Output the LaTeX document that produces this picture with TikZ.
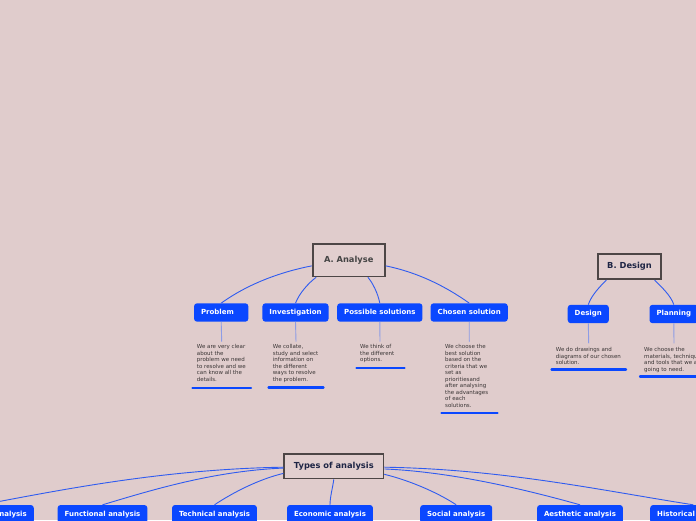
\documentclass[tikz,border=0pt]{standalone}
\usepackage{fontspec}
\setmainfont{DejaVu Sans}
\definecolor{bg}{HTML}{E0CCCC}
\definecolor{titlefill}{HTML}{E2CFCF}
\definecolor{boxblue}{HTML}{0A47FF}
\definecolor{linkblue}{HTML}{2F5BF0}
\definecolor{stemblue}{HTML}{8D9CE6}
\definecolor{frame}{HTML}{4D4646}
\definecolor{navy}{HTML}{1E2545}
\definecolor{darkgray}{HTML}{444444}
\definecolor{notegray}{HTML}{3A3535}
\begin{document}
\begin{tikzpicture}[x=1pt,y=-1pt,
  titlebox/.style={draw=frame, line width=1.8pt, fill=titlefill, inner sep=0pt,
    font=\fontsize{8.3}{9}\selectfont\bfseries},
  topic/.style={fill=boxblue, rounded corners=3pt, text=white,
    font=\fontsize{7}{8}\selectfont\bfseries, inner xsep=7pt, inner ysep=0pt,
    minimum height=18.4pt, text height=5.2pt, text depth=1.4pt, align=left},
  note/.style={anchor=north west, inner sep=0pt, align=left, text=notegray,
    font=\fontsize{5.5}{6.5}\selectfont},
  link/.style={draw=linkblue, line width=0.9pt},
  stem/.style={draw=stemblue, line width=0.9pt},
  uline/.style={draw=boxblue, line width=2.4pt, line cap=round}]
\useasboundingbox (0,0) rectangle (696,520);
\fill[bg] (0,0) rectangle (696,520);
\clip (0,0) rectangle (696,520);

% ---------- A. Analyse ----------
\node[titlebox, text=darkgray, minimum width=72.2pt, minimum height=32.8pt] (A) at (348.7,260) {A. Analyse};
\node[topic, text width=40.3pt] (P) at (221.2,312.5) {Problem};
\node[topic] (I) at (295.5,312.5) {Investigation};
\node[topic] (PS) at (379.8,312.5) {Possible solutions};
\node[topic] (CS) at (469.2,312.5) {Chosen solution};

\draw[link] (A.189) .. controls +(-34,6.7) and +(25.5,-18.2) .. (P.north);
\draw[link] (A.208) .. controls +(-8,6) and +(4,-10) .. (I.north);
\draw[link] (A.318.6) .. controls +(5,6) and +(-2,-10) .. (PS.north);
\draw[link] (A.351) .. controls +(32,6.5) and +(-24,-17) .. (CS.north);

\coordinate (Pe) at (221.7,341.7);
\coordinate (Ie) at (296,341.7);
\coordinate (PSe) at (380,341.7);
\coordinate (CSe) at (469.3,341.7);
\draw[stem] (P.south) -- (Pe);
\draw[stem] (I.south) -- (Ie);
\draw[stem] (PS.south) -- (PSe);
\draw[stem] (CS.south) -- (CSe);

\node[note] (Pn) at (196.7,344.3) {We are very clear\\about the\\problem we need\\to resolve and we\\can know all the\\details.};
\node[note] (In) at (272.7,344.3) {We collate,\\study and select\\information on\\the different\\ways to resolve\\the problem.};
\node[note] (PSn) at (360,344.3) {We think of\\the different\\options.};
\node[note] (CSn) at (445,344.3) {We choose the\\best solution\\based on the\\criteria that we\\set as\\prioritiesand\\after analysing\\the advantages\\of each\\solutions.};

\coordinate (Pu1) at (192.5,387.7); \coordinate (Pu2) at (251,387.7);
\coordinate (Iu1) at (268.5,387.5); \coordinate (Iu2) at (323.5,387.5);
\coordinate (PSu1) at (356.5,368); \coordinate (PSu2) at (404.5,368);
\coordinate (CSu1) at (441.5,413); \coordinate (CSu2) at (497.5,413);
\draw[uline] (Pu1) -- (Pu2);
\draw[uline] (Iu1) -- (Iu2);
\draw[uline] (PSu1) -- (PSu2);
\draw[uline] (CSu1) -- (CSu2);

% ---------- B. Design ----------
\node[titlebox, text=navy, minimum width=62.6pt, minimum height=24.9pt] (B) at (629.5,266.7) {B. Design};
\node[topic] (D) at (588.3,314) {Design};
\node[topic, anchor=west] (PL) at (649.3,314) {Planning};

\draw[link] (B.210) .. controls +(-7,7) and +(3,-9) .. (D.north);
\draw[link] (B.332.5) .. controls +(7,7) and +(-3,-9) .. (PL.north);

\coordinate (De) at (588.7,343.3);
\coordinate (PLe) at (674,343.3);
\draw[stem] (D.south) -- (De);
\draw[stem] (PL.south) -- (PLe);

\node[note] (Dn) at (555.7,347.3) {We do drawings and\\diagrams of our chosen\\solution.};
\node[note] (PLn) at (644,347.3) {We choose the\\materials, techniques\\and tools that we are\\going to need.};

\coordinate (Du1) at (551.5,369.3); \coordinate (Du2) at (626,369.3);
\coordinate (PLu1) at (640,376.3); \coordinate (PLu2) at (705,376.3);
\draw[uline] (Du1) -- (Du2);
\draw[uline] (PLu1) -- (PLu2);

% ---------- Types of analysis ----------
\node[titlebox, text=navy, minimum width=99.2pt, minimum height=24.2pt] (T) at (333.8,466.3) {Types of analysis};
\node[topic, anchor=east] (T1) at (34,514.2) {Morphological analysis};
\node[topic] (T2) at (102.5,514.2) {Functional analysis};
\node[topic] (T3) at (214.5,514.2) {Technical analysis};
\node[topic] (T4) at (330,514.2) {Economic analysis};
\node[topic] (T5) at (456.2,514.2) {Social analysis};
\node[topic] (T6) at (580,514.2) {Aesthetic analysis};
\node[topic, anchor=west] (T7) at (650,514.2) {Historical analysis};

\draw[link] (T.181) .. controls +(-120,2) and +(80,-15) .. (T1.north);
\draw[link] (T.182) .. controls +(-70,3) and +(50,-15) .. (T2.north);
\draw[link] (T.188.7) .. controls +(-25,6) and +(18,-12) .. (T3.north);
\draw[link] (T.south) .. controls +(-1,8) and +(0,-8) .. (T4.north);
\draw[link] (T.351.3) .. controls +(25,6) and +(-18,-12) .. (T5.north);
\draw[link] (T.357.7) .. controls +(70,3) and +(-50,-14) .. (T6.north);
\draw[link] (T.359) .. controls +(120,2) and +(-90,-14) .. (T7.north);
\end{tikzpicture}
\end{document}
